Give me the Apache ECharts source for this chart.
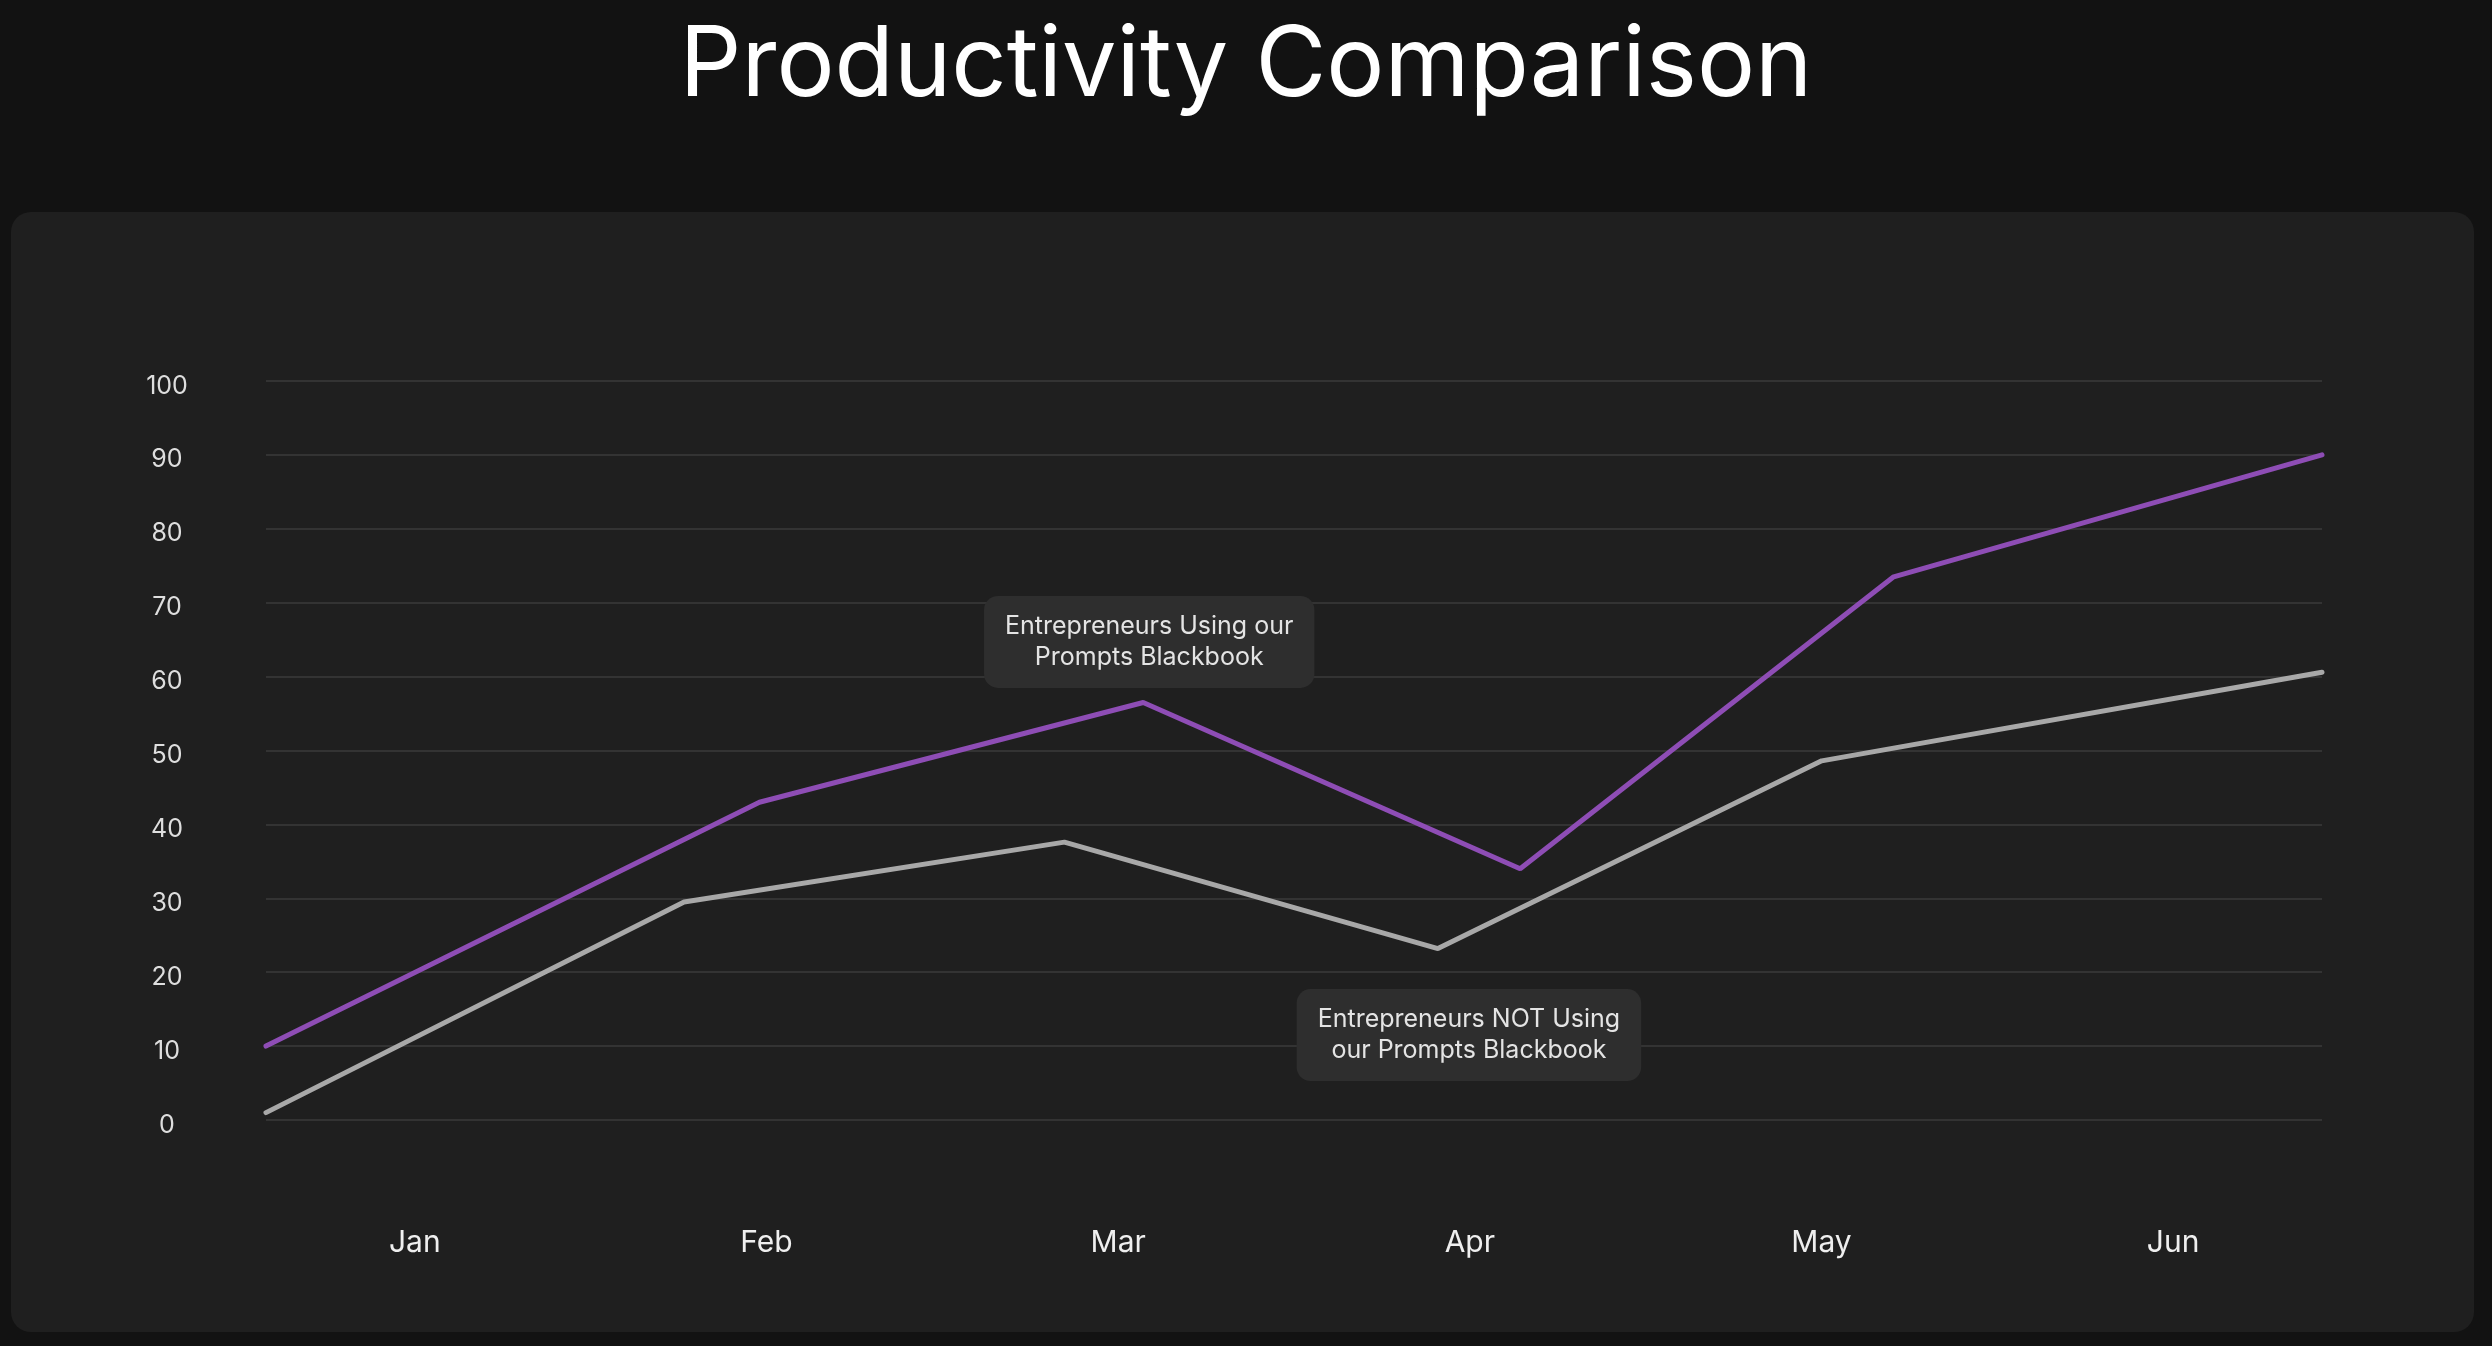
<!DOCTYPE html>
<html>
<head>
<meta charset="utf-8">
<title>Productivity Comparison</title>
<script src="https://cdn.jsdelivr.net/npm/echarts@6/dist/echarts.min.js"></script>
<style>
  html, body { margin: 0; padding: 0; background: #121212; }
  #main { width: 2492px; height: 1346px; }
</style>
</head>
<body>
<div id="main"></div>
<script>
// month labels along the bottom
const months = ['Jan', 'Feb', 'Mar', 'Apr', 'May', 'Jun'];

// x = time in months from the start (0..6), y = productivity score
const usingX = [0, 1.44, 2.56, 3.66, 4.75, 6];
const usingY = [10, 43, 56.5, 34, 73.5, 90];

const notUsingX = [0, 1.22, 2.33, 3.42, 4.54, 6];
const notUsingY = [1, 29.5, 37.6, 23.2, 48.6, 60.6];

const usingName = 'Entrepreneurs Using our\nPrompts Blackbook';
const notUsingName = 'Entrepreneurs NOT Using\nour Prompts Blackbook';
const usingNoteAt = 2;     // label sits on the Mar point
const notUsingNoteAt = 3;  // label sits under the Apr point

const noteStyle = {
  show: true,
  color: '#e4e4e4',
  fontFamily: 'Inter',
  fontSize: 25,
  lineHeight: 31,
  align: 'center',
  backgroundColor: '#2e2e2e',
  borderRadius: 14,
  padding: [15, 21]
};

function build (xs, ys, noteAt, label) {
  return xs.map(function (x, i) {
    if (i === noteAt) {
      return { value: [x, ys[i]], label: label };
    }
    return [x, ys[i]];
  });
}

const chart = echarts.init(document.getElementById('main'));

const option = {
  backgroundColor: '#121212',
  animation: false,
  title: {
    text: 'Productivity Comparison',
    left: 'center',
    top: 13,
    textStyle: {
      color: '#ffffff',
      fontFamily: 'Inter',
      fontWeight: 'normal',
      fontSize: 97
    }
  },
  graphic: [
    {
      type: 'rect',
      z: -10,
      shape: { x: 11, y: 212, width: 2463, height: 1120, r: 20 },
      style: { fill: '#1f1f1f' }
    }
  ],
  grid: [
    { left: 266, right: 170, top: 381, bottom: 226 },
    { left: 239, right: 143, top: 381, bottom: 226 }
  ],
  xAxis: [
    {
      type: 'value',
      gridIndex: 0,
      min: 0,
      max: 6,
      show: false
    },
    {
      type: 'category',
      gridIndex: 1,
      data: months,
      boundaryGap: true,
      axisLine: { show: false },
      axisTick: { show: false },
      splitLine: { show: false },
      axisLabel: {
        color: '#efefef',
        fontFamily: 'Inter',
        fontSize: 30,
        margin: 108
      }
    }
  ],
  yAxis: [
    {
      type: 'value',
      gridIndex: 0,
      min: 0,
      max: 100,
      interval: 10,
      axisLine: { show: false },
      axisTick: { show: false },
      axisLabel: {
        color: '#dedede',
        fontFamily: 'Inter',
        fontSize: 25,
        align: 'center',
        verticalAlign: 'top',
        lineHeight: 10,
        margin: 99
      },
      splitLine: {
        lineStyle: { color: '#333333', width: 2 }
      }
    },
    {
      type: 'value',
      gridIndex: 1,
      min: 0,
      max: 100,
      show: false
    }
  ],
  series: [
    {
      name: 'Entrepreneurs NOT Using our Prompts Blackbook',
      type: 'line',
      xAxisIndex: 0,
      yAxisIndex: 0,
      symbol: 'circle',
      symbolSize: 1,
      showSymbol: true,
      itemStyle: { color: '#a8a8a8' },
      lineStyle: { color: '#a8a8a8', width: 5, cap: 'round' },
      data: build(notUsingX, notUsingY, notUsingNoteAt,
        Object.assign({}, noteStyle, {
          formatter: notUsingName,
          position: 'bottom',
          distance: 40,
          offset: [31, 0]
        }))
    },
    {
      name: 'Entrepreneurs Using our Prompts Blackbook',
      type: 'line',
      xAxisIndex: 0,
      yAxisIndex: 0,
      symbol: 'circle',
      symbolSize: 1,
      showSymbol: true,
      itemStyle: { color: '#8e4db5' },
      lineStyle: { color: '#8e4db5', width: 5, cap: 'round' },
      data: build(usingX, usingY, usingNoteAt,
        Object.assign({}, noteStyle, {
          formatter: usingName,
          position: 'top',
          distance: 14,
          offset: [6, 0]
        }))
    }
  ]
};

chart.setOption(option);
</script>
</body>
</html>
